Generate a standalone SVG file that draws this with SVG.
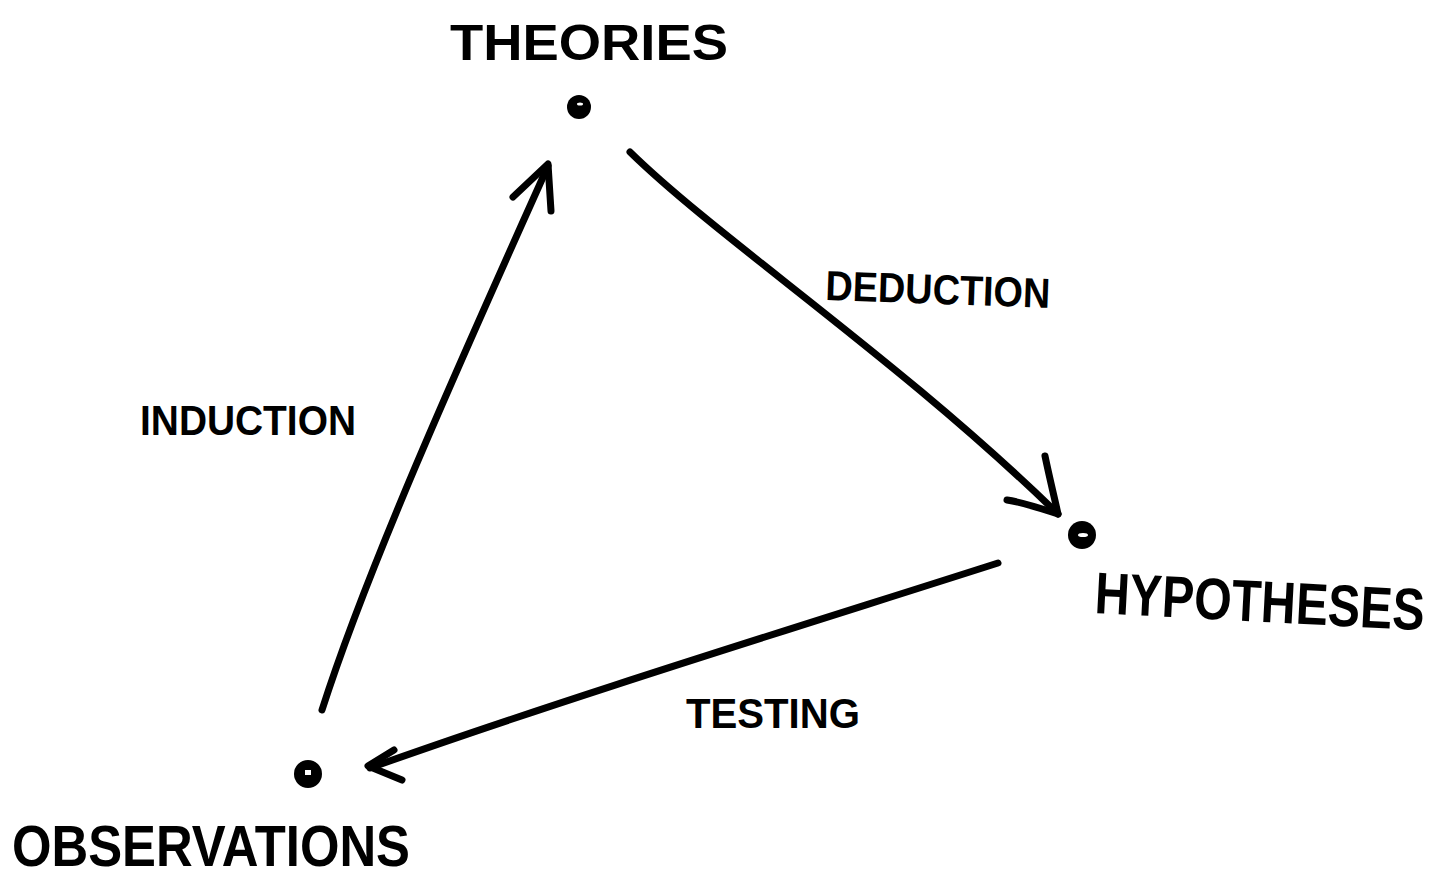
<svg xmlns="http://www.w3.org/2000/svg" width="1449" height="879" viewBox="0 0 1449 879">
<style>
.ln{fill:none;stroke:#000;stroke-width:7;stroke-linecap:round;stroke-linejoin:round}
.dot{fill:#000}
.hole{fill:#fff}
.t{font-family:"Liberation Sans",Arial,sans-serif;font-weight:bold;fill:#000}
</style>
<rect width="1449" height="879" fill="#fff"/>
<g id="theories">
<text class="t" x="450" y="60" font-size="50" textLength="278" lengthAdjust="spacingAndGlyphs">THEORIES</text>
<circle class="dot" cx="579" cy="107" r="12"/>
<ellipse class="hole" cx="580" cy="104" rx="3" ry="1.5"/>
</g>
<g id="hypotheses">
<circle class="dot" cx="1082" cy="535" r="14"/>
<ellipse class="hole" cx="1083" cy="535" rx="5" ry="2"/>
<text class="t" x="0" y="0" font-size="49" textLength="330" lengthAdjust="spacingAndGlyphs" transform="translate(1094 613) rotate(3) scale(1 1.2)">HYPOTHESES</text>
</g>
<g id="observations">
<circle class="dot" cx="308" cy="774" r="14"/>
<rect class="hole" x="305" y="770" width="6" height="5"/>
<text class="t" x="12" y="866" font-size="58" textLength="398" lengthAdjust="spacingAndGlyphs">OBSERVATIONS</text>
</g>
<g id="connectors">
<path class="ln" d="M322 710 C370 560 470 340 548 166"/>
<path class="ln" d="M513 197 L548 164 L551 211"/>
<path class="ln" d="M630 152 C720 240 900 360 1058 514"/>
<path class="ln" d="M1045 456 C1050 480 1055 500 1058 514 C1040 508 1020 502 1007 500"/>
<path class="ln" d="M998 563 C820 620 560 700 370 768"/>
<path class="ln" d="M394 750 L368 766 L402 780"/>
</g>
<g id="labels">
<text class="t" x="825" y="300" font-size="42" textLength="225" lengthAdjust="spacingAndGlyphs" transform="rotate(2 825 300)">DEDUCTION</text>
<text class="t" x="140" y="435" font-size="42" textLength="216" lengthAdjust="spacingAndGlyphs">INDUCTION</text>
<text class="t" x="686" y="728" font-size="42" textLength="174" lengthAdjust="spacingAndGlyphs">TESTING</text>
</g>
</svg>
